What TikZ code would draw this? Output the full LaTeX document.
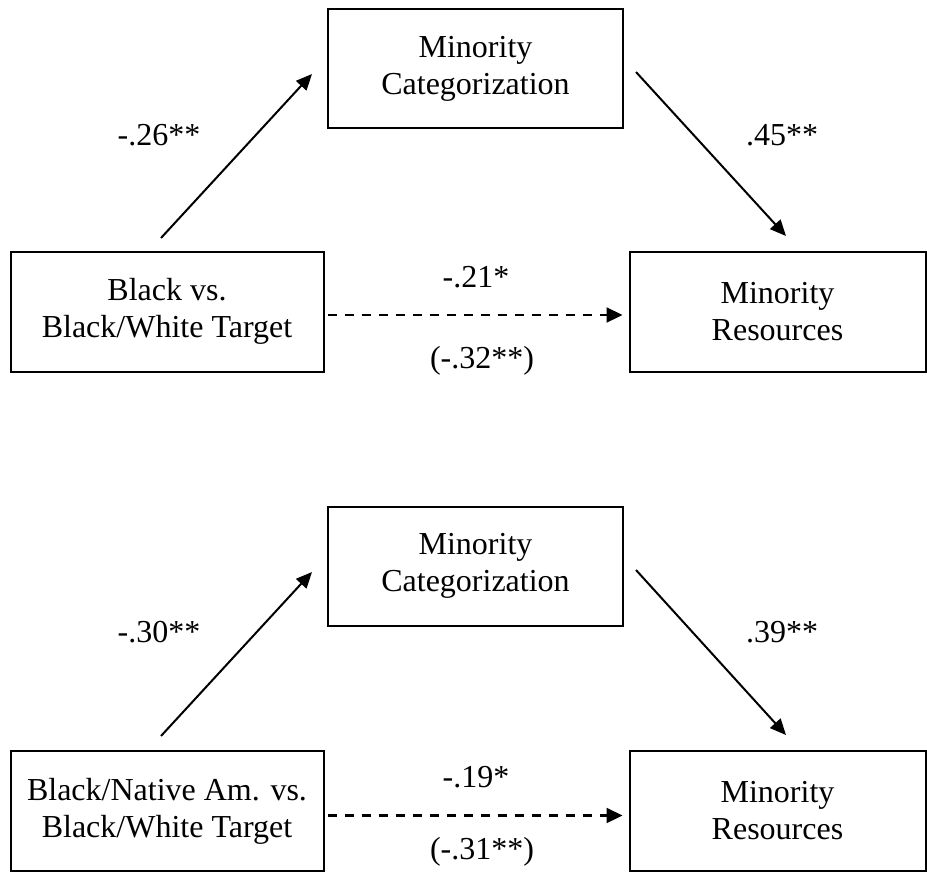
\documentclass[tikz,border=0pt]{standalone}
\usepackage{fontspec}
\setmainfont{Liberation Serif}
\usetikzlibrary{arrows.meta}
\begin{document}
\begin{tikzpicture}[x=1pt,y=-1pt,
  box/.style={draw,line width=2pt,align=center,inner sep=0pt,font=\fontsize{32}{37}\selectfont},
  midbox/.style={box,minimum width=295pt,minimum height=119pt},
  sidebox/.style={box,minimum width=313pt,minimum height=120pt},
  rbox/.style={box,minimum width=296pt,minimum height=120pt},
  lbl/.style={font=\fontsize{32}{37}\selectfont,inner sep=0pt},
  arr/.style={line width=2pt,-{Triangle[length=16pt,width=14pt]}},
  darr/.style={line width=2.2pt,dash pattern=on 9pt off 8pt,-{Triangle[length=16pt,width=15pt]}}]
\useasboundingbox (0,0) rectangle (927,873);
% ---------- top diagram ----------
\node[midbox] (M1) at (475.5,68.5) {Minority\\Categorization};
\node[sidebox] (L1) at (167,311.5) {Black vs.\\Black/White Target};
\node[rbox] (R1) at (777.5,311.5) {Minority\\Resources};
\coordinate (a1s) at (161,238);
\coordinate (a1e) at (312,74);
\coordinate (b1s) at (636,72);
\coordinate (b1e) at (786,236);
\draw[arr] (a1s) -- (a1e);
\draw[arr] (b1s) -- (b1e);
\draw[darr] ([xshift=3pt,yshift=-3.5pt]L1.east) -- ([xshift=-6pt,yshift=-3.5pt]R1.west);
\node[lbl] (p1) at (159,135) {-.26**};
\node[lbl] (q1) at (782,135) {.45**};
\node[lbl] (r1) at (476,277) {-.21*};
\node[lbl] (s1) at (482,361) {(-.32**)};
% ---------- bottom diagram ----------
\node[midbox] (M2) at (475.5,566) {Minority\\Categorization};
\node[sidebox] (L2) at (167,811) {Black/Native Am. vs.\\Black/White Target};
\node[rbox] (R2) at (777.5,811) {Minority\\Resources};
\coordinate (a2s) at (161,736);
\coordinate (a2e) at (312,572);
\coordinate (b2s) at (636,570);
\coordinate (b2e) at (786,735);
\draw[arr] (a2s) -- (a2e);
\draw[arr] (b2s) -- (b2e);
\draw[darr] ([xshift=3pt,yshift=-4.5pt]L2.east) -- ([xshift=-6pt,yshift=-4.5pt]R2.west);
\node[lbl] (p2) at (159,632) {-.30**};
\node[lbl] (q2) at (782,632) {.39**};
\node[lbl] (r2) at (476,777) {-.19*};
\node[lbl] (s2) at (482,852) {(-.31**)};
\end{tikzpicture}
\end{document}
